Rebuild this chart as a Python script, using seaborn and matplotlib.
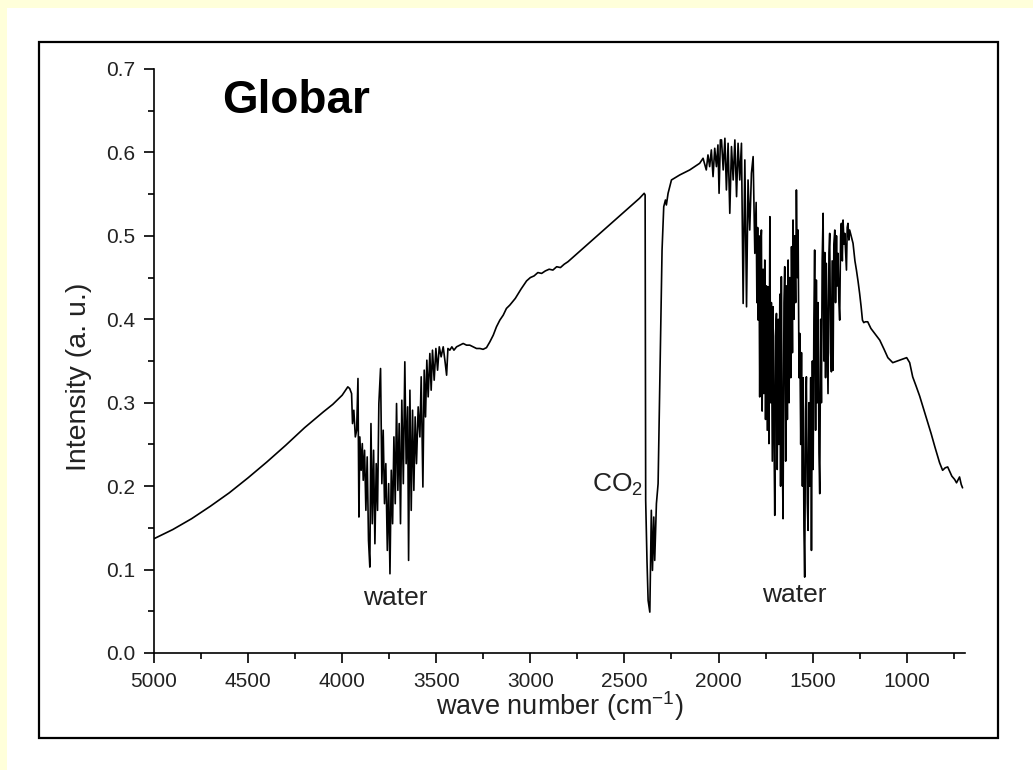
import numpy as np
import pandas as pd
import matplotlib
matplotlib.use("Agg")
import matplotlib.pyplot as plt
from matplotlib.patches import Rectangle
from matplotlib.ticker import MultipleLocator, FormatStrFormatter
import seaborn as sns

# Globar emission spectrum, intensity in arbitrary units vs wave number (cm^-1)
smooth_wn = [5000, 4900, 4800, 4700, 4600, 4500, 4400, 4300, 4200, 4100,
             4050, 4000, 3985, 3970, 3960]
smooth_int = [0.137, 0.148, 0.161, 0.176, 0.192, 0.210, 0.229, 0.249, 0.270, 0.289,
              0.298, 0.309, 0.314, 0.319, 0.317]

water1_wn = [3950, 3945, 3938, 3930, 3923, 3916, 3911, 3906, 3899, 3893,
             3888, 3881, 3874, 3867, 3860, 3853, 3847, 3840, 3833, 3826,
             3819, 3812, 3805, 3796, 3789, 3782, 3775, 3768, 3760, 3753,
             3746, 3739, 3732, 3725, 3718, 3711, 3704, 3697, 3690, 3683,
             3675, 3667, 3660, 3652, 3647, 3640, 3633, 3626, 3619, 3612,
             3605, 3596, 3587, 3580, 3571, 3564, 3557, 3550, 3543, 3534,
             3527, 3520, 3511, 3502, 3493, 3484, 3474, 3463, 3452, 3445,
             3438, 3428, 3417, 3406]
water1_int = [0.311, 0.275, 0.291, 0.259, 0.267, 0.329, 0.163, 0.259, 0.219, 0.251,
              0.207, 0.243, 0.171, 0.235, 0.135, 0.103, 0.275, 0.155, 0.243, 0.131,
              0.227, 0.171, 0.299, 0.341, 0.203, 0.267, 0.179, 0.227, 0.123, 0.203,
              0.095, 0.219, 0.155, 0.259, 0.179, 0.299, 0.195, 0.275, 0.155, 0.303,
              0.203, 0.349, 0.227, 0.295, 0.111, 0.315, 0.171, 0.291, 0.195, 0.283,
              0.227, 0.295, 0.259, 0.331, 0.199, 0.339, 0.283, 0.351, 0.307, 0.359,
              0.315, 0.363, 0.327, 0.365, 0.339, 0.367, 0.355, 0.367, 0.347, 0.333,
              0.365, 0.363, 0.367, 0.363]

plateau_wn = [3392, 3375, 3357, 3339, 3322, 3304, 3286, 3268, 3251, 3233,
              3215, 3197, 3180, 3162, 3144, 3127, 3109, 3080, 3050, 3020,
              3000, 2980, 2960, 2940, 2920, 2900, 2880, 2860, 2840, 2820,
              2800, 2750, 2700, 2650, 2600, 2550, 2500, 2450, 2420, 2395]
plateau_int = [0.367, 0.369, 0.371, 0.369, 0.369, 0.367, 0.365, 0.365, 0.364, 0.366,
               0.373, 0.381, 0.391, 0.399, 0.405, 0.413, 0.417, 0.425, 0.436, 0.446,
               0.450, 0.452, 0.456, 0.455, 0.458, 0.460, 0.459, 0.463, 0.462, 0.466,
               0.469, 0.479, 0.489, 0.499, 0.509, 0.519, 0.529, 0.539, 0.545, 0.551]

co2_wn = [2390, 2387, 2380, 2374, 2365, 2357, 2351, 2344, 2339, 2330,
          2321, 2312, 2300, 2291, 2282, 2277, 2268, 2250, 2206, 2153,
          2100, 2082]
co2_int = [0.549, 0.183, 0.110, 0.063, 0.049, 0.171, 0.099, 0.163, 0.111, 0.179,
           0.203, 0.323, 0.483, 0.535, 0.543, 0.537, 0.551, 0.567, 0.573, 0.579,
           0.587, 0.593]

water2_wn = [2065, 2056, 2047, 2038, 2029, 2020, 2011, 2003, 1997, 1990,
             1984, 1975, 1966, 1958, 1949, 1940, 1931, 1922, 1913, 1904,
             1896, 1887, 1878, 1869, 1860, 1851, 1843, 1834, 1825, 1816,
             1807, 1800, 1796, 1792, 1789, 1785, 1781, 1777, 1772, 1768,
             1763, 1759, 1754, 1750, 1745, 1741, 1736, 1732, 1727, 1723,
             1719, 1714, 1710, 1705, 1701, 1697, 1692, 1688, 1683, 1679,
             1674, 1670, 1666, 1661, 1657, 1652, 1648, 1643, 1639, 1634,
             1630, 1625, 1621, 1616, 1612, 1607, 1604, 1599, 1595, 1590,
             1586, 1581, 1577, 1572, 1568, 1563, 1559, 1554, 1550, 1546,
             1542, 1537, 1533, 1528, 1524, 1519, 1515, 1510, 1506, 1501,
             1497, 1493, 1489, 1484, 1480, 1475, 1471, 1466, 1462, 1457,
             1453, 1449, 1444, 1440, 1435, 1431, 1427, 1422, 1418, 1413,
             1409, 1404, 1400, 1396, 1391, 1387, 1382, 1378, 1373, 1369,
             1365, 1360, 1356, 1351, 1347, 1342, 1338, 1333, 1329, 1324,
             1320, 1316, 1312, 1307, 1303, 1295]
water2_int = [0.579, 0.597, 0.583, 0.603, 0.571, 0.605, 0.583, 0.609, 0.551, 0.615,
              0.615, 0.579, 0.617, 0.555, 0.611, 0.527, 0.607, 0.567, 0.615, 0.547,
              0.611, 0.567, 0.611, 0.419, 0.591, 0.415, 0.567, 0.507, 0.575, 0.595,
              0.479, 0.540, 0.420, 0.510, 0.399, 0.500, 0.307, 0.480, 0.507, 0.290,
              0.460, 0.311, 0.471, 0.280, 0.440, 0.267, 0.439, 0.251, 0.523, 0.300,
              0.420, 0.230, 0.415, 0.260, 0.165, 0.380, 0.407, 0.220, 0.400, 0.250,
              0.430, 0.200, 0.451, 0.240, 0.161, 0.420, 0.463, 0.230, 0.440, 0.280,
              0.471, 0.300, 0.450, 0.330, 0.487, 0.360, 0.519, 0.400, 0.500, 0.420,
              0.555, 0.450, 0.507, 0.330, 0.383, 0.250, 0.360, 0.200, 0.330, 0.150,
              0.091, 0.290, 0.331, 0.180, 0.147, 0.300, 0.200, 0.330, 0.123, 0.350,
              0.220, 0.400, 0.483, 0.267, 0.447, 0.300, 0.420, 0.240, 0.191, 0.400,
              0.300, 0.470, 0.527, 0.350, 0.480, 0.330, 0.467, 0.380, 0.311, 0.480,
              0.503, 0.360, 0.337, 0.470, 0.339, 0.490, 0.507, 0.420, 0.500, 0.440,
              0.479, 0.420, 0.399, 0.500, 0.515, 0.470, 0.519, 0.490, 0.503, 0.480,
              0.459, 0.510, 0.515, 0.495, 0.507, 0.500]

tail_wn = [1285, 1275, 1267, 1258, 1250, 1242, 1235, 1228, 1220, 1207,
           1190, 1170, 1143, 1120, 1100, 1074, 1050, 1025, 1000, 984,
           968, 950, 931, 900, 870, 850, 825, 809, 795, 782,
           760, 745, 735, 719, 710, 703]
tail_int = [0.491, 0.470, 0.459, 0.445, 0.431, 0.415, 0.399, 0.396, 0.397, 0.397,
            0.389, 0.383, 0.375, 0.364, 0.354, 0.348, 0.350, 0.352, 0.354, 0.348,
            0.331, 0.320, 0.308, 0.285, 0.263, 0.247, 0.228, 0.219, 0.222, 0.223,
            0.212, 0.208, 0.204, 0.211, 0.202, 0.198]

spectrum = pd.DataFrame({
    "wn": np.concatenate([smooth_wn, water1_wn, plateau_wn, co2_wn, water2_wn, tail_wn]),
    "intensity": np.concatenate([smooth_int, water1_int, plateau_int, co2_int, water2_int, tail_int]),
})

sns.set_style("ticks")
plt.rcParams["font.family"] = ["Liberation Sans", "DejaVu Sans"]
plt.rcParams["mathtext.default"] = "regular"

fig = plt.figure(figsize=(10.33, 7.70), dpi=100)
fig.patch.set_facecolor("#FFFFDA")
# white page with a framed plot panel, kept beneath the axes
fig.patches.append(Rectangle((7 / 1033, 0), 1 - 7 / 1033, 1 - 8 / 770,
                             transform=fig.transFigure, facecolor="white",
                             edgecolor="none", zorder=-2))
fig.patches.append(Rectangle((39 / 1033, 1 - 738 / 770), (998 - 39) / 1033, (738 - 42) / 770,
                             transform=fig.transFigure, facecolor="none",
                             edgecolor="black", linewidth=1.6, zorder=-1))

ax = fig.add_axes([154 / 1033, 1 - 653 / 770, (965 - 154) / 1033, (653 - 69) / 770])
ax.set_facecolor("none")

sns.lineplot(data=spectrum, x="wn", y="intensity", ax=ax, color="black",
             linewidth=1.2, estimator=None, sort=False)

ax.set_xlim(5000, 690)
ax.set_ylim(0, 0.7)
ax.set_xticks(np.arange(1000, 5001, 500))
ax.xaxis.set_minor_locator(MultipleLocator(250))
ax.yaxis.set_major_locator(MultipleLocator(0.1))
ax.yaxis.set_minor_locator(MultipleLocator(0.05))
ax.xaxis.set_major_formatter(FormatStrFormatter("%d"))
ax.yaxis.set_major_formatter(FormatStrFormatter("%.1f"))
ax.tick_params(which="major", direction="out", length=7.5, width=1.2,
               labelsize=15, pad=6, colors="black", labelcolor="#222222")
ax.tick_params(which="minor", direction="out", length=4.5, width=1.2, colors="black")
for side in ("top", "right"):
    ax.spines[side].set_visible(False)
for side in ("left", "bottom"):
    ax.spines[side].set_linewidth(1.2)
    ax.spines[side].set_color("black")

ax.set_xlabel("wave number (cm$^{-1}$)", fontsize=19.5, color="#222222")
ax.set_ylabel("Intensity (a. u.)", fontsize=20.5, color="#222222")
ax.xaxis.set_label_coords(0.5, -0.0625)
ax.yaxis.set_label_coords(-0.0765, 0.473)

ax.text(4639, 0.647, "Globar", fontsize=33, fontweight="bold", ha="left",
        va="baseline", color="black")
ax.text(3720, 0.058, "water", fontsize=19, ha="center", va="baseline", color="#222222")
ax.text(1595, 0.061, "water", fontsize=19, ha="center", va="baseline", color="#222222")
ax.text(2400, 0.193, "CO$_2$", fontsize=19, ha="right", va="baseline", color="#222222")

fig.savefig("out.png", dpi=100, facecolor=fig.get_facecolor())
